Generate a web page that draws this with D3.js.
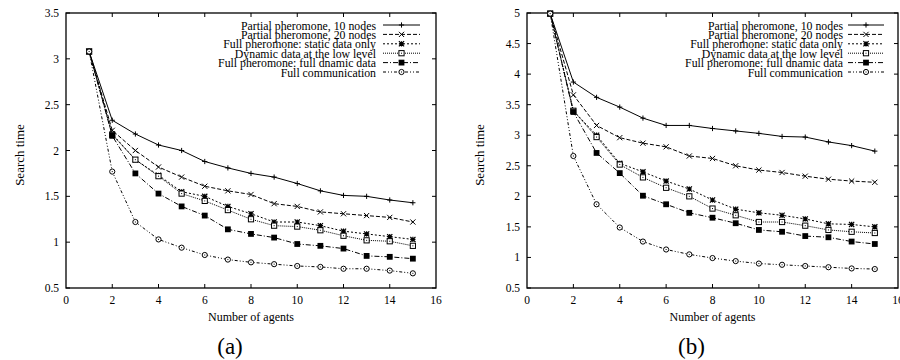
<!DOCTYPE html>
<html>
<head>
<meta charset="utf-8">
<script src="https://cdn.jsdelivr.net/npm/d3@7"></script>
<style>
  body { margin: 0; background: #fff; }
  svg text { font-family: "Liberation Serif", Tinos, "Times New Roman", Times, "DejaVu Serif", serif; fill: #000; }
</style>
</head>
<body>
<svg width="900" height="360"></svg>
<script>
var agents = [1, 2, 3, 4, 5, 6, 7, 8, 9, 10, 11, 12, 13, 14, 15]

var series_names = [
  "Partial pheromone, 10 nodes",
  "Partial pheromone, 20 nodes",
  "Full pheromone: static data only",
  "Dynamic data at the low level",
  "Full pheromone: full dnamic data",
  "Full communication"
]

// panel (a)
var a_partial10 = [3.08, 2.33, 2.18, 2.06, 2.00, 1.88, 1.81, 1.75, 1.71, 1.64, 1.56, 1.51, 1.50, 1.46, 1.43]
var a_partial20 = [3.08, 2.22, 2.00, 1.82, 1.71, 1.61, 1.56, 1.52, 1.42, 1.39, 1.33, 1.31, 1.29, 1.27, 1.22]
var a_static    = [3.08, 2.18, 1.90, 1.73, 1.55, 1.50, 1.39, 1.31, 1.22, 1.22, 1.18, 1.12, 1.09, 1.06, 1.03]
var a_lowlevel  = [3.08, 2.17, 1.90, 1.72, 1.53, 1.45, 1.35, 1.25, 1.18, 1.17, 1.13, 1.07, 1.02, 1.01, 0.96]
var a_fulldyn   = [3.08, 2.16, 1.75, 1.53, 1.39, 1.29, 1.14, 1.09, 1.05, 0.98, 0.96, 0.93, 0.85, 0.84, 0.82]
var a_fullcomm  = [3.08, 1.77, 1.22, 1.03, 0.94, 0.86, 0.81, 0.78, 0.76, 0.74, 0.73, 0.71, 0.71, 0.69, 0.66]

// panel (b)
var b_partial10 = [4.99, 3.87, 3.62, 3.46, 3.28, 3.16, 3.16, 3.11, 3.07, 3.03, 2.98, 2.97, 2.89, 2.83, 2.74]
var b_partial20 = [4.99, 3.66, 3.16, 2.96, 2.87, 2.81, 2.66, 2.62, 2.50, 2.43, 2.39, 2.33, 2.28, 2.25, 2.23]
var b_static    = [4.99, 3.40, 3.00, 2.54, 2.40, 2.25, 2.12, 1.94, 1.79, 1.73, 1.69, 1.63, 1.55, 1.54, 1.50]
var b_lowlevel  = [4.99, 3.40, 2.97, 2.52, 2.31, 2.14, 2.00, 1.80, 1.69, 1.58, 1.58, 1.52, 1.45, 1.42, 1.40]
var b_fulldyn   = [4.99, 3.38, 2.71, 2.38, 2.01, 1.87, 1.73, 1.65, 1.56, 1.45, 1.42, 1.35, 1.33, 1.26, 1.22]
var b_fullcomm  = [4.99, 2.66, 1.87, 1.49, 1.26, 1.13, 1.05, 0.99, 0.94, 0.90, 0.88, 0.86, 0.84, 0.82, 0.81]

var x_ticks = [0, 2, 4, 6, 8, 10, 12, 14, 16]
var a_y_ticks = [0.5, 1, 1.5, 2, 2.5, 3, 3.5]
var b_y_ticks = [0.5, 1, 1.5, 2, 2.5, 3, 3.5, 4, 4.5, 5]

var dashes = [null, "4,2", "2,2", "1,1", "5,2,1,2", "3,2,1,2,1,2"]
var markers = ["plus", "cross", "star", "box", "fbox", "circle"]

var panels = [
  {label: "(a)", left: 66, right: 436, top: 13, bottom: 288, ymax: 3.5, yticks: a_y_ticks,
   data: [a_partial10, a_partial20, a_static, a_lowlevel, a_fulldyn, a_fullcomm],
   ylabx: 24, legend_text: 376, legend_l1: 383, legend_l2: 420},
  {label: "(b)", left: 527, right: 898, top: 13, bottom: 288, ymax: 5, yticks: b_y_ticks,
   data: [b_partial10, b_partial20, b_static, b_lowlevel, b_fulldyn, b_fullcomm],
   ylabx: 484, legend_text: 843, legend_l1: 848, legend_l2: 884}
]

var svg = d3.select("svg")

function put_text(g, x, y, str, size, anchor) {
  return g.append("text")
    .attr("x", x)
    .attr("y", y)
    .attr("font-size", size)
    .attr("text-anchor", anchor)
    .text(str)
}

function draw_marker(g, kind, x, y) {
  var s = 2.6
  if (kind == "plus") {
    g.append("path").attr("d", "M" + (x - s) + "," + y + "h" + 2 * s + "M" + x + "," + (y - s) + "v" + 2 * s)
      .attr("stroke", "#000").attr("stroke-width", 1)
  } else if (kind == "cross") {
    g.append("path").attr("d", "M" + (x - s) + "," + (y - s) + "l" + 2 * s + "," + 2 * s + "M" + (x - s) + "," + (y + s) + "l" + 2 * s + "," + (-2 * s))
      .attr("stroke", "#000").attr("stroke-width", 1)
  } else if (kind == "star") {
    g.append("path").attr("d", "M" + (x - s) + "," + y + "h" + 2 * s + "M" + x + "," + (y - s) + "v" + 2 * s +
      "M" + (x - s) + "," + (y - s) + "l" + 2 * s + "," + 2 * s + "M" + (x - s) + "," + (y + s) + "l" + 2 * s + "," + (-2 * s))
      .attr("stroke", "#000").attr("stroke-width", 1.2)
  } else if (kind == "box") {
    g.append("rect").attr("x", x - s).attr("y", y - s).attr("width", 2 * s).attr("height", 2 * s)
      .attr("fill", "#fff").attr("stroke", "#000").attr("stroke-width", 1)
    g.append("rect").attr("x", x - 0.5).attr("y", y - 0.5).attr("width", 1).attr("height", 1).attr("fill", "#000")
  } else if (kind == "fbox") {
    g.append("rect").attr("x", x - s - 0.3).attr("y", y - s - 0.3).attr("width", 2 * s + 0.6).attr("height", 2 * s + 0.6)
      .attr("fill", "#000")
  } else {
    g.append("circle").attr("cx", x).attr("cy", y).attr("r", s)
      .attr("fill", "#fff").attr("stroke", "#000").attr("stroke-width", 1)
    g.append("rect").attr("x", x - 0.5).attr("y", y - 0.5).attr("width", 1).attr("height", 1).attr("fill", "#000")
  }
}

panels.forEach(function(p) {
  var g = svg.append("g")

  var xScale = d3.scaleLinear().domain([0, 16]).range([p.left, p.right])
  var yScale = d3.scaleLinear().domain([0.5, p.ymax]).range([p.bottom, p.top])

  // ticks, inward on all four sides (gnuplot style)
  var tl = 4
  x_ticks.forEach(function(t) {
    var x = xScale(t)
    if (t > 0 && t < 16) {
      g.append("line").attr("x1", x).attr("x2", x).attr("y1", p.bottom).attr("y2", p.bottom - tl).attr("stroke", "#000")
      g.append("line").attr("x1", x).attr("x2", x).attr("y1", p.top).attr("y2", p.top + tl).attr("stroke", "#000")
    }
    put_text(g, x, p.bottom + 15.5, t, 11.5, "middle")
  })
  p.yticks.forEach(function(t) {
    var y = yScale(t)
    g.append("line").attr("x1", p.left).attr("x2", p.left + tl).attr("y1", y).attr("y2", y).attr("stroke", "#000")
    g.append("line").attr("x1", p.right).attr("x2", p.right - tl).attr("y1", y).attr("y2", y).attr("stroke", "#000")
    put_text(g, p.left - 7, y + 4, t, 11.5, "end")
  })

  g.append("rect")
    .attr("x", p.left).attr("y", p.top)
    .attr("width", p.right - p.left).attr("height", p.bottom - p.top)
    .attr("fill", "none").attr("stroke", "#000").attr("stroke-width", 1.3)

  var line = d3.line()
    .x(function(d, i) { return xScale(agents[i]) })
    .y(function(d) { return yScale(d) })

  p.data.forEach(function(vals, k) {
    g.append("path")
      .datum(vals)
      .attr("d", line)
      .attr("fill", "none")
      .attr("stroke", "#000")
      .attr("stroke-width", 1)
      .attr("stroke-dasharray", dashes[k])
  })
  p.data.forEach(function(vals, k) {
    vals.forEach(function(v, i) {
      draw_marker(g, markers[k], xScale(agents[i]), yScale(v))
    })
  })

  // legend
  series_names.forEach(function(name, k) {
    var ly = 25 + k * 9.4
    put_text(g, p.legend_text, ly + 4.5, name, 11.8, "end")
    g.append("line").attr("x1", p.legend_l1).attr("x2", p.legend_l2).attr("y1", ly).attr("y2", ly)
      .attr("stroke", "#000").attr("stroke-width", 1).attr("stroke-dasharray", dashes[k])
    draw_marker(g, markers[k], (p.legend_l1 + p.legend_l2) / 2, ly)
  })

  put_text(g, (p.left + p.right) / 2, 321, "Number of agents", 12, "middle")
  g.append("text")
    .attr("transform", "translate(" + p.ylabx + ",155) rotate(-90)")
    .attr("font-size", 13)
    .attr("text-anchor", "middle")
    .text("Search time")
  put_text(g, (p.left + p.right) / 2 - 21, 354, p.label, 23, "middle")
})
</script>
</body>
</html>
